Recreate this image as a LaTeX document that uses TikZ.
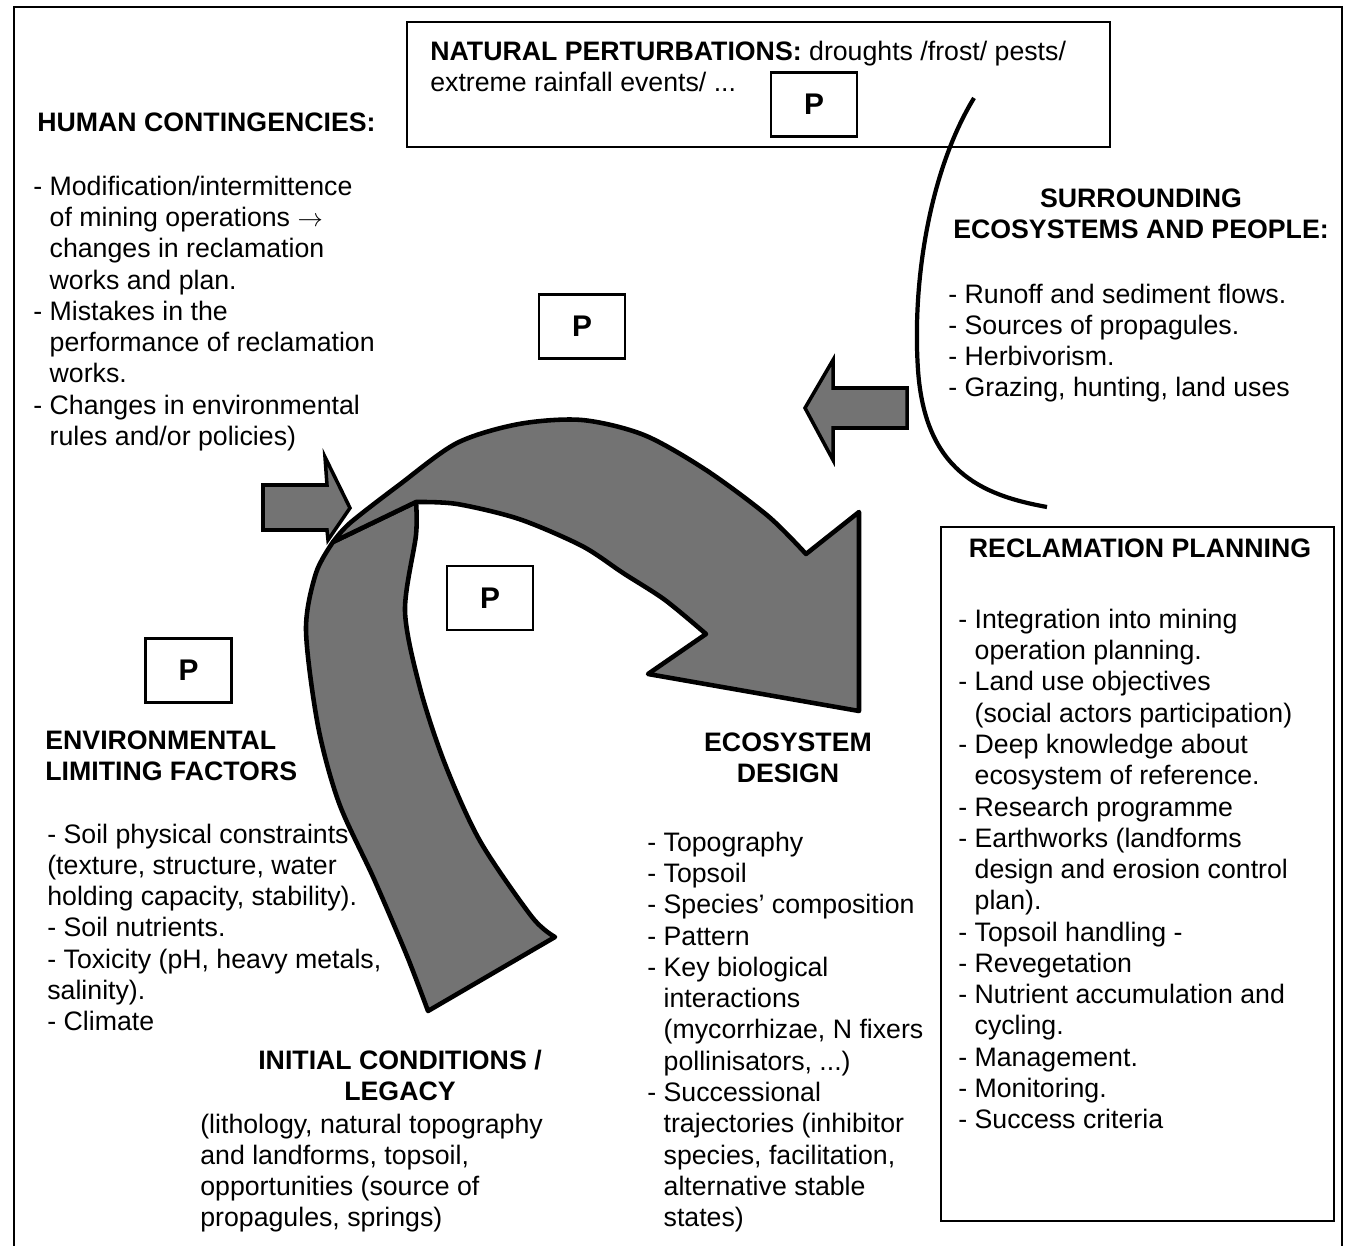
\documentclass[tikz,border=0pt]{standalone}
\usepackage{fontspec}
\setmainfont{Liberation Sans}
\usepackage{amsmath}
\tikzset{
  txt/.style={font=\fontsize{15.2}{17.8}\selectfont, inner sep=0pt},
  hd/.style={txt, font=\fontsize{15.2}{17.8}\selectfont\bfseries},
  plist/.style={txt, align=left, anchor=base west},
  pbox/.style={draw, line width=1.2pt, inner sep=0pt, minimum width=1.72cm, minimum height=1.28cm, font=\fontsize{17}{17}\selectfont\bfseries},
  framebox/.style={draw, line width=1.2pt, inner sep=0pt},
  bigarrow/.style={fill=black!55, draw=black, line width=2.6pt, line join=round},
  blockarrow/.style={fill=black!55, draw=black, line width=2pt},
}
\newcommand{\ind}{\hphantom{- }}
\begin{document}
\begin{tikzpicture}[x=0.02cm, y=-0.02cm]
\useasboundingbox (0,0) rectangle (1345,1246);
% outer frame
\draw[line width=1.3pt] (14,1260) -- (14,7) -- (1342,7) -- (1342,1260);

% natural perturbations
% (multi-line nodes: base = baseline of the last line)
\node[framebox, minimum width=14.06cm, minimum height=2.5cm] (natbox) at (758.5,84.5) {};
\node[plist] (nattxt) at (430,91.3) {\textbf{NATURAL PERTURBATIONS:} droughts /frost/ pests/\\extreme rainfall events/ ...};
\node[pbox] (p1) at (814,104.5) {P};

% human contingencies
\node[hd, anchor=base west] (humhd) at (37,132) {HUMAN CONTINGENCIES:};
\node[plist] (humlist) at (33,445.4) {- Modification/intermittence\\
\ind of mining operations $\rightarrow$\\
\ind changes in reclamation\\
\ind works and plan.\\
- Mistakes in the\\
\ind performance of reclamation\\
\ind works.\\
- Changes in environmental\\
\ind rules and/or policies)};

\node[pbox] (p2) at (582,326.5) {P};
\node[pbox] (p3) at (490,598) {P};
\node[pbox] (p4) at (188.5,670.5) {P};

% surrounding ecosystems
\node[hd, align=center, anchor=base] (surhd) at (1141,238.3) {SURROUNDING\\ECOSYSTEMS AND PEOPLE:};
\node[plist] (surlist) at (948,396.9) {- Runoff and sediment flows.\\
- Sources of propagules.\\
- Herbivorism.\\
- Grazing, hunting, land uses};
\draw[line width=2.4pt] (974,98) .. controls (930,170) and (912,280) .. (918,370)
  .. controls (925,470) and (980,495) .. (1047,507);

% small block arrows
\draw[blockarrow] (907,388) -- (833,388) -- (833,360) -- (805,408) -- (833,460) -- (833,428) -- (907,428) -- cycle;
\draw[blockarrow] (263,485) -- (327,485) -- (325,457) -- (350,508) -- (328,540) -- (327,530) -- (263,530) -- cycle;

% big curved arrow: leg, then arc with head
\draw[bigarrow] (555,937) -- (428,1011)
  -- plot[smooth] coordinates {(428,1011) (407,956) (374,879) (339,803) (318,726) (306,630) (316,573) (333,542)}
  -- (416,502)
  -- plot[smooth] coordinates {(416,502) (416,535) (405,611) (420,688) (445,764) (480,841) (532,917) (555,937)}
  -- cycle;
\draw[bigarrow] (333,542)
  -- plot[smooth] coordinates {(333,542) (350,523) (399,485) (457,443) (519,424) (582,420) (644,435) (706,470) (768,516) (806,554)}
  -- (859,512) -- (859,711) -- (648,674) -- (706,634)
  -- plot[smooth] coordinates {(706,634) (665,600) (623,573) (582,546) (519,519) (457,504) (416,502)}
  -- cycle;

% environmental limiting factors
\node[hd, align=left, anchor=base west] (envhd) at (45,780.3) {ENVIRONMENTAL\\LIMITING FACTORS};
\node[plist] (envlist) at (47,1030.8) {- Soil physical constraints\\
(texture, structure, water\\
holding capacity, stability).\\
- Soil nutrients.\\
- Toxicity (pH, heavy metals,\\
salinity).\\
- Climate};

% initial conditions
\node[hd, align=center, anchor=base] (inihd) at (400,1100.3) {INITIAL CONDITIONS /\\LEGACY};
\node[plist] (inilist) at (200,1226.9) {(lithology, natural topography\\
and landforms, topsoil,\\
opportunities (source of\\
propagules, springs)};

% ecosystem design
\node[hd, align=center, anchor=base] (ecohd) at (788,782.3) {ECOSYSTEM\\DESIGN};
\node[plist] (ecolist) at (647,1226.6) {- Topography\\
- Topsoil\\
- Species' composition\\
- Pattern\\
- Key biological\\
\ind interactions\\
\ind (mycorrhizae, N fixers\\
\ind pollinisators, ...)\\
- Successional\\
\ind trajectories (inhibitor\\
\ind species, facilitation,\\
\ind alternative stable\\
\ind states)};

% reclamation planning
\node[framebox, line width=1pt, minimum width=7.86cm, minimum height=13.88cm] (recbox) at (1137.5,874) {};
\node[hd, anchor=base] (rechd) at (1140,557) {RECLAMATION PLANNING};
\node[plist] (reclist) at (958,1128.8) {- Integration into mining\\
\ind operation planning.\\
- Land use objectives\\
\ind (social actors participation)\\
- Deep knowledge about\\
\ind ecosystem of reference.\\
- Research programme\\
- Earthworks (landforms\\
\ind design and erosion control\\
\ind plan).\\
- Topsoil handling -\\
- Revegetation\\
- Nutrient accumulation and\\
\ind cycling.\\
- Management.\\
- Monitoring.\\
- Success criteria};
\end{tikzpicture}
\end{document}
